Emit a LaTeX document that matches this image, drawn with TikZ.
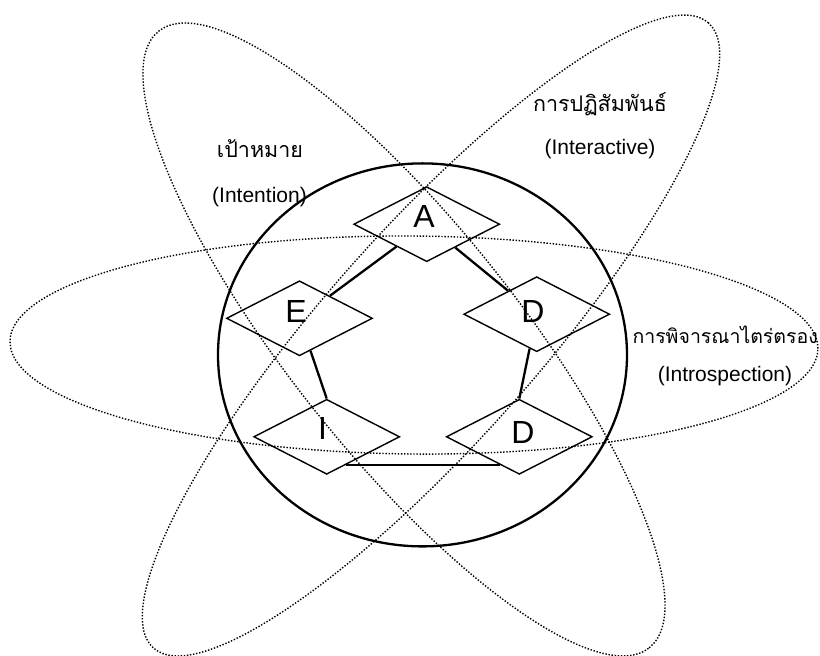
\documentclass[tikz,border=0pt]{standalone}
\usepackage{fontspec}
\setmainfont{Liberation Sans}
\newfontfamily\thaifont[Script=Thai]{Loma}
\usetikzlibrary{shapes.geometric,calc}
\begin{document}
\begin{tikzpicture}[x=1pt,y=1pt,
  dia/.style={diamond, draw, line width=1.4pt, minimum width=146pt, minimum height=75pt, inner sep=0pt},
  letter/.style={font=\fontsize{32}{32}\selectfont, inner sep=0pt},
  conn/.style={line width=2.3pt},
  orbit/.style={line width=1.4pt, dash pattern=on 1.4pt off 1.7pt},
  eng/.style={font=\fontsize{21}{25}\selectfont, anchor=base, inner sep=0pt},
  thai/.style={font=\thaifont\fontsize{21.5}{26}\selectfont, anchor=base, inner sep=0pt}]
\useasboundingbox (0,0) rectangle (820,656);
\coordinate (oH) at (414,311);
\coordinate (o1) at (404,316.5);
\coordinate (o2) at (431,320.5);
\coordinate (oc) at (422.5,301.1);
% orbits
\draw[orbit, rotate around={-0.5:(oH)}] (oH) ellipse [x radius=404, y radius=109];
\draw[orbit, rotate around={-51.5:(o1)}] (o1) ellipse [x radius=394, y radius=114];
\draw[orbit, rotate around={48.4:(o2)}] (o2) ellipse [x radius=418, y radius=106];
% big circle
\node[draw, ellipse, line width=2.3pt, minimum width=409pt, minimum height=383pt, inner sep=0pt] (circ) at (oc) {};
% diamonds
\node[dia] (A) at (426.7,431.8) {};
\node[dia] (E) at (299.5,337.7) {};
\node[dia] (D1) at (536.7,341.8) {};
\node[dia] (I) at (326.7,219.2) {};
\node[dia] (D2) at (519.3,219.2) {};
\node[letter] (tA) at (424,439.5) {A};
\node[letter] (tE) at (296,344.3) {E};
\node[letter] (tD1) at (533,345) {D};
\node[letter] (tI) at (322.5,228) {I};
\node[letter] (tD2) at (523,223.5) {D};
% connectors
\draw[conn] (A) -- (E);
\draw[conn] (A) -- (D1);
\draw[conn] (E) -- (I.north);
\draw[conn] (D1) -- (D2.north);
\draw[conn] ($(I.south)!0.26!(I.east)$) -- ($(D2.south)!0.26!(D2.west)$);
% texts
\node[thai] (t1) at (260,498) {เป้าหมาย};
\node[eng] (t2) at (259.5,453.7) {(Intention)};
\node[thai] (t3) at (600,544.3) {การปฏิสัมพันธ์};
\node[eng] (t4) at (600,501) {(Interactive)};
\node[thai, font=\thaifont\fontsize{19.5}{24}\selectfont, anchor=base east] (t5) at (818,312.7) {การพิจารณาไตร่ตรอง};
\node[eng] (t6) at (725,274.3) {(Introspection)};
\end{tikzpicture}
\end{document}
